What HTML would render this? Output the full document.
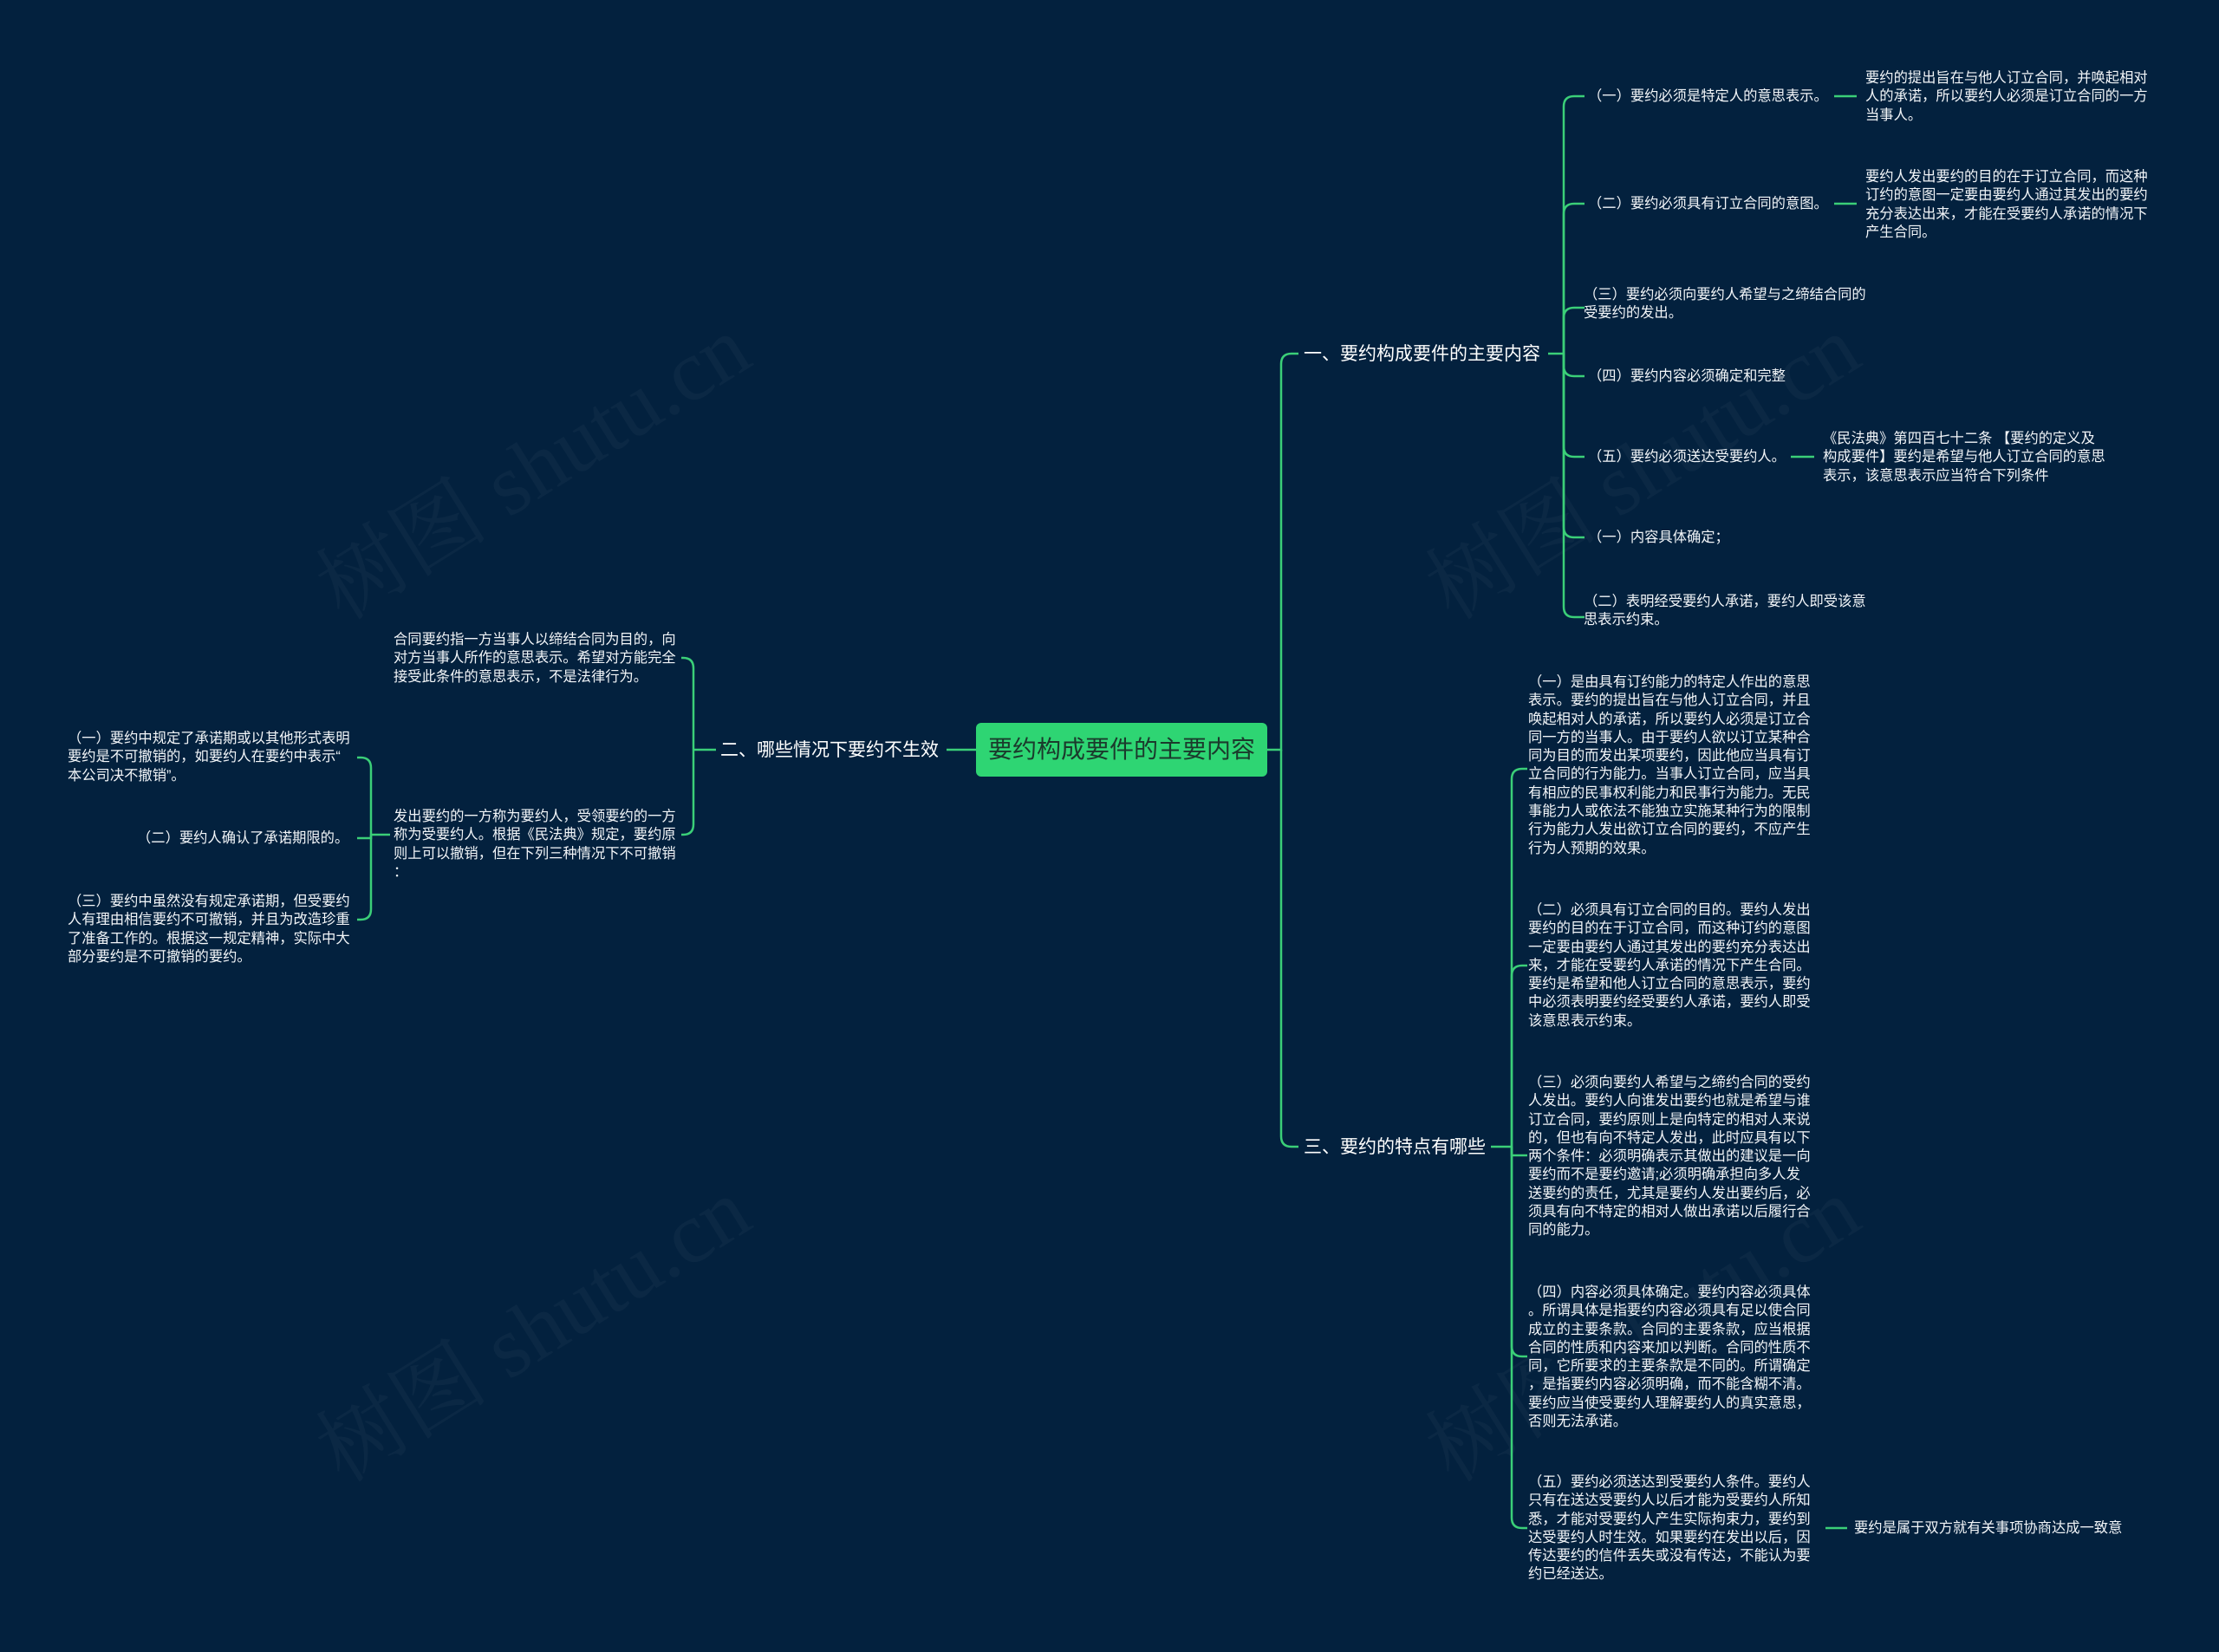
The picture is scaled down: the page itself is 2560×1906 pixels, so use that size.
<!DOCTYPE html>
<html><head><meta charset="utf-8">
<style>
html,body{margin:0;padding:0;}
body{width:2560px;height:1906px;background:#03213e;position:relative;overflow:hidden;font-family:"Liberation Sans","Noto Sans CJK SC",sans-serif;color:#fff;}
.t{position:absolute;white-space:nowrap;font-size:16.3px;line-height:21.3px;color:#f2f5f8;}
.b{position:absolute;white-space:nowrap;font-size:21px;line-height:30px;color:#fff;}
.wm{position:absolute;white-space:nowrap;font-family:"Liberation Serif","Noto Serif CJK SC",serif;font-size:100px;color:rgba(255,255,255,0.035);transform:rotate(-32deg);transform-origin:center;}
#root{position:absolute;left:1126px;top:834px;width:336px;height:62px;background:#2ed573;border-radius:6px;color:#1b3a2c;font-size:28px;line-height:62px;text-align:center;}
svg{position:absolute;left:0;top:0;}
</style></head><body>
<div class="wm" style="left:330px;top:460px;">树图 shutu.cn</div>
<div class="wm" style="left:1610px;top:460px;">树图 shutu.cn</div>
<div class="wm" style="left:330px;top:1455px;">树图 shutu.cn</div>
<div class="wm" style="left:1610px;top:1455px;">树图 shutu.cn</div>

<svg width="2560" height="1906" fill="none" stroke="#3bcf78" stroke-width="2.5">
<path d="M1462 865 H1478 V420 Q1478 408 1490 408 H1498"/>
<path d="M1478 865 V1311 Q1478 1323 1490 1323 H1498"/>
<path d="M1126 865 H1092"/>
<g>
<path d="M1786 408 H1804"/>
<path d="M1804 408 V123 Q1804 111 1816 111 H1828"/>
<path d="M1804 408 V247 Q1804 235 1816 235 H1828"/>
<path d="M1804 408 V367 Q1804 355 1816 355 H1828"/>
<path d="M1804 408 V422 Q1804 434 1816 434 H1828"/>
<path d="M1804 408 V515 Q1804 527 1816 527 H1828"/>
<path d="M1804 408 V608 Q1804 620 1816 620 H1828"/>
<path d="M1804 408 V700 Q1804 712 1816 712 H1828"/>
</g>
<path d="M2116 111 H2142"/>
<path d="M2116 235 H2142"/>
<path d="M2066 527 H2093"/>
<path d="M1720 1323 H1744"/>
<path d="M1744 1323 V899 Q1744 887 1756 887 H1762"/>
<path d="M1744 1323 V1126 Q1744 1114 1756 1114 H1762"/>
<path d="M1744 1323 V1333 H1762"/>
<path d="M1744 1323 V1553 Q1744 1565 1756 1565 H1762"/>
<path d="M1744 1323 V1751 Q1744 1763 1756 1763 H1762"/>
<path d="M2106 1763 H2131"/>
<path d="M826 865 H800"/>
<path d="M800 865 V771 Q800 759 788 759 H786"/>
<path d="M800 865 V951 Q800 963 788 963 H786"/>
<path d="M450 963 H428"/>
<path d="M428 963 V886 Q428 874 416 874 H412"/>
<path d="M428 963 V967 H412"/>
<path d="M428 963 V1049 Q428 1061 416 1061 H412"/>
</svg>

<div id="root">要约构成要件的主要内容</div>
<div class="b" style="left:1504px;top:394px;">一、要约构成要件的主要内容</div>
<div class="b" style="left:1504px;top:1309px;">三、要约的特点有哪些</div>
<div class="b" style="left:831px;top:851px;">二、哪些情况下要约不生效</div>

<div class="t" style="left:1832px;top:101px;">（一）要约必须是特定人的意思表示。</div>
<div class="t" style="left:1832px;top:225px;">（二）要约必须具有订立合同的意图。</div>
<div class="t" style="left:1827px;top:330px;">（三）要约必须向要约人希望与之缔结合同的<br>受要约的发出。</div>
<div class="t" style="left:1832px;top:424px;">（四）要约内容必须确定和完整</div>
<div class="t" style="left:1832px;top:517px;">（五）要约必须送达受要约人。</div>
<div class="t" style="left:1832px;top:610px;">（一）内容具体确定；</div>
<div class="t" style="left:1827px;top:684px;">（二）表明经受要约人承诺，要约人即受该意<br>思表示约束。</div>

<div class="t" style="left:2152px;top:80px;">要约的提出旨在与他人订立合同，并唤起相对<br>人的承诺，所以要约人必须是订立合同的一方<br>当事人。</div>
<div class="t" style="left:2152px;top:194px;">要约人发出要约的目的在于订立合同，而这种<br>订约的意图一定要由要约人通过其发出的要约<br>充分表达出来，才能在受要约人承诺的情况下<br>产生合同。</div>
<div class="t" style="left:2103px;top:496px;">《民法典》第四百七十二条 【要约的定义及<br>构成要件】要约是希望与他人订立合同的意思<br>表示，该意思表示应当符合下列条件</div>

<div class="t" style="left:1763px;top:777px;">（一）是由具有订约能力的特定人作出的意思<br>表示。要约的提出旨在与他人订立合同，并且<br>唤起相对人的承诺，所以要约人必须是订立合<br>同一方的当事人。由于要约人欲以订立某种合<br>同为目的而发出某项要约，因此他应当具有订<br>立合同的行为能力。当事人订立合同，应当具<br>有相应的民事权利能力和民事行为能力。无民<br>事能力人或依法不能独立实施某种行为的限制<br>行为能力人发出欲订立合同的要约，不应产生<br>行为人预期的效果。</div>
<div class="t" style="left:1763px;top:1040px;">（二）必须具有订立合同的目的。要约人发出<br>要约的目的在于订立合同，而这种订约的意图<br>一定要由要约人通过其发出的要约充分表达出<br>来，才能在受要约人承诺的情况下产生合同。<br>要约是希望和他人订立合同的意思表示，要约<br>中必须表明要约经受要约人承诺，要约人即受<br>该意思表示约束。</div>
<div class="t" style="left:1763px;top:1239px;">（三）必须向要约人希望与之缔约合同的受约<br>人发出。要约人向谁发出要约也就是希望与谁<br>订立合同，要约原则上是向特定的相对人来说<br>的，但也有向不特定人发出，此时应具有以下<br>两个条件：必须明确表示其做出的建议是一向<br>要约而不是要约邀请;必须明确承担向多人发<br>送要约的责任，尤其是要约人发出要约后，必<br>须具有向不特定的相对人做出承诺以后履行合<br>同的能力。</div>
<div class="t" style="left:1763px;top:1481px;">（四）内容必须具体确定。要约内容必须具体<br>。所谓具体是指要约内容必须具有足以使合同<br>成立的主要条款。合同的主要条款，应当根据<br>合同的性质和内容来加以判断。合同的性质不<br>同，它所要求的主要条款是不同的。所谓确定<br>，是指要约内容必须明确，而不能含糊不清。<br>要约应当使受要约人理解要约人的真实意思，<br>否则无法承诺。</div>
<div class="t" style="left:1763px;top:1700px;">（五）要约必须送达到受要约人条件。要约人<br>只有在送达受要约人以后才能为受要约人所知<br>悉，才能对受要约人产生实际拘束力，要约到<br>达受要约人时生效。如果要约在发出以后，因<br>传达要约的信件丢失或没有传达，不能认为要<br>约已经送达。</div>
<div class="t" style="left:2139px;top:1753px;">要约是属于双方就有关事项协商达成一致意</div>

<div class="t" style="left:454px;top:728px;">合同要约指一方当事人以缔结合同为目的，向<br>对方当事人所作的意思表示。希望对方能完全<br>接受此条件的意思表示，不是法律行为。</div>
<div class="t" style="left:454px;top:932px;">发出要约的一方称为要约人，受领要约的一方<br>称为受要约人。根据《民法典》规定，要约原<br>则上可以撤销，但在下列三种情况下不可撤销<br>：</div>

<div class="t" style="left:78px;top:842px;">（一）要约中规定了承诺期或以其他形式表明<br>要约是不可撤销的，如要约人在要约中表示“<br>本公司决不撤销”。</div>
<div class="t" style="left:158px;top:957px;">（二）要约人确认了承诺期限的。</div>
<div class="t" style="left:78px;top:1030px;">（三）要约中虽然没有规定承诺期，但受要约<br>人有理由相信要约不可撤销，并且为改造珍重<br>了准备工作的。根据这一规定精神，实际中大<br>部分要约是不可撤销的要约。</div>
</body></html>
